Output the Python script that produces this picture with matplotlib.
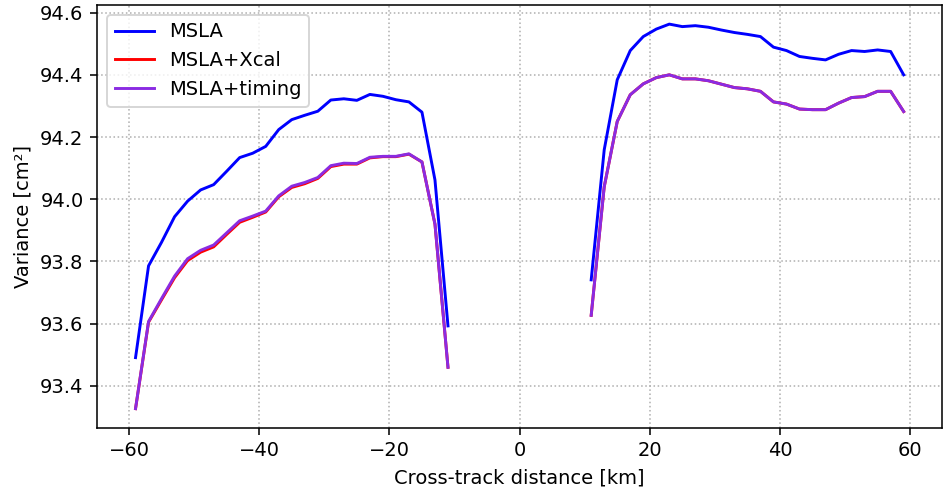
import numpy as np
import matplotlib
matplotlib.use("Agg")
import matplotlib.pyplot as plt

x_left = [-59, -57, -55, -53, -51, -49, -47, -45, -43, -41, -39, -37, -35,
          -33, -31, -29, -27, -25, -23, -21, -19, -17, -15, -13, -11]
x_right = [11, 13, 15, 17, 19, 21, 23, 25, 27, 29, 31, 33, 35,
           37, 39, 41, 43, 45, 47, 49, 51, 53, 55, 57, 59]

msla_left = [93.491, 93.786, 93.862, 93.944, 93.994, 94.03, 94.047, 94.09, 94.134, 94.148,
             94.17, 94.224, 94.256, 94.27, 94.283, 94.319, 94.323, 94.318, 94.337, 94.331,
             94.32, 94.313, 94.28, 94.062, 93.593]
msla_right = [93.741, 94.159, 94.384, 94.478, 94.523, 94.547, 94.563, 94.555, 94.558, 94.553,
              94.544, 94.536, 94.53, 94.523, 94.489, 94.478, 94.459, 94.453, 94.448, 94.466,
              94.478, 94.475, 94.48, 94.475, 94.4]

xcal_left = [93.327, 93.605, 93.677, 93.748, 93.803, 93.83, 93.847, 93.887, 93.926, 93.942,
             93.959, 94.008, 94.038, 94.05, 94.067, 94.105, 94.113, 94.113, 94.133, 94.137,
             94.137, 94.145, 94.12, 93.92, 93.46]
xcal_right = [93.627, 94.04, 94.25, 94.336, 94.371, 94.391, 94.4, 94.387, 94.387, 94.381,
              94.37, 94.359, 94.355, 94.347, 94.313, 94.306, 94.29, 94.288, 94.288, 94.309,
              94.327, 94.33, 94.347, 94.347, 94.282]

timing_left = [93.327, 93.607, 93.681, 93.753, 93.809, 93.836, 93.853, 93.892, 93.931, 93.946,
               93.962, 94.011, 94.042, 94.054, 94.07, 94.108, 94.116, 94.115, 94.135, 94.138,
               94.138, 94.146, 94.12, 93.92, 93.46]
timing_right = [93.627, 94.04, 94.25, 94.336, 94.371, 94.391, 94.4, 94.387, 94.387, 94.381,
                94.37, 94.359, 94.355, 94.347, 94.313, 94.306, 94.29, 94.288, 94.288, 94.309,
                94.327, 94.33, 94.347, 94.347, 94.282]

gap_x = [-9, -7, -5, -3, -1, 1, 3, 5, 7, 9]
nan_gap = [np.nan] * len(gap_x)

x = x_left + gap_x + x_right
msla = msla_left + nan_gap + msla_right
xcal = xcal_left + nan_gap + xcal_right
timing = timing_left + nan_gap + timing_right

DPI = 140
fig = plt.figure(figsize=(943 / DPI, 489 / DPI), dpi=DPI)
ax = fig.add_axes([0.103, 0.125, 0.896, 0.865])
ax.plot(x, msla, color="blue", lw=1.5, label="MSLA")
ax.plot(x, xcal, color="red", lw=1.5, label="MSLA+Xcal")
ax.plot(x, timing, color="blueviolet", lw=1.5, label="MSLA+timing")
ax.grid(True, linestyle=":", color="#b0b0b0", linewidth=0.8)
ax.set_xlabel("Cross-track distance [km]")
ax.set_ylabel("Variance [cm²]")
ax.legend(loc="upper left")
fig.savefig("out.png", dpi=DPI)
